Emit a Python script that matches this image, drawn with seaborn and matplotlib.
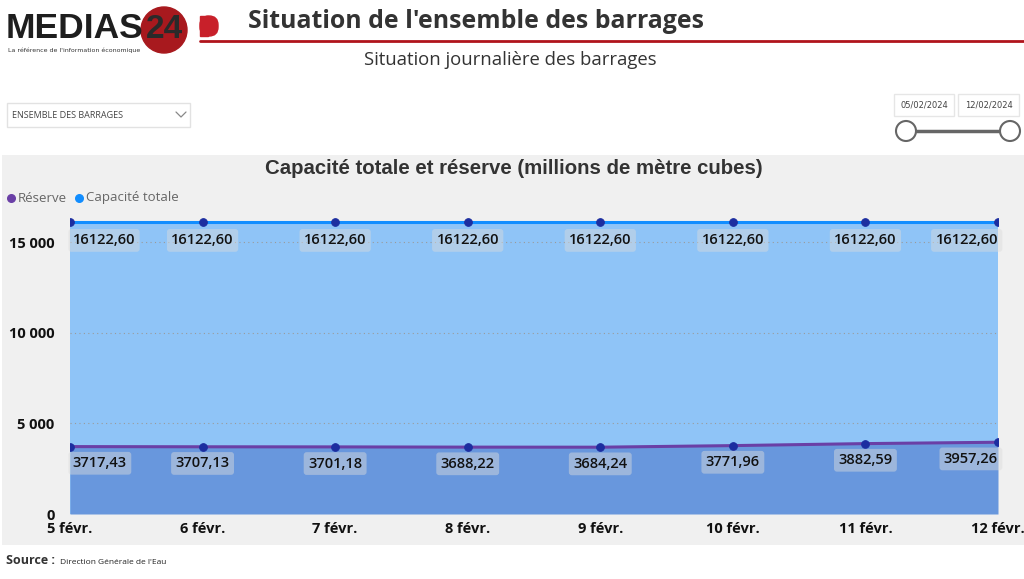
import matplotlib
matplotlib.use("Agg")
import matplotlib.pyplot as plt
from matplotlib.patches import Rectangle, Circle, FancyBboxPatch
import pandas as pd
import seaborn as sns

# data
dates = ["5 févr.", "6 févr.", "7 févr.", "8 févr.", "9 févr.", "10 févr.", "11 févr.", "12 févr."]
reserve = [3717.43, 3707.13, 3701.18, 3688.22, 3684.24, 3771.96, 3882.59, 3957.26]
capacite = [16122.60] * 8
y_ticks = [0, 5000, 10000, 15000]
y_tick_labels = ["0", "5 000", "10 000", "15 000"]

RESERVE_LINE = "#6a3fa6"
RESERVE_FILL = "#6897dd"
CAP_LINE = "#118dff"
CAP_FILL = "#8fc4f7"
MARKER = "#1c2ea0"


def fr(v):
    return f"{v:.2f}".replace(".", ",")


sns.set_theme(style="white")
W, H = 1024, 579
fig = plt.figure(figsize=(W / 100, H / 100), dpi=100)
fig.patch.set_facecolor("white")

# page overlay in pixel coords
bg = fig.add_axes([0, 0, 1, 1], zorder=0)
bg.set_xlim(0, W)
bg.set_ylim(H, 0)
bg.axis("off")

# logo
bg.text(6, 28, "MEDIAS", fontsize=25.5, fontweight="bold", color="#1e1e1e",
        va="center", ha="left", family="Liberation Sans")
bg.add_patch(Circle((164, 30), 23, color="#a8191e", zorder=2))
bg.text(164, 30, "24", fontsize=24, fontweight="bold", color="#2a2a2a",
        va="center", ha="center", zorder=3, family="Liberation Sans")
bg.add_patch(FancyBboxPatch((200, 16), 18, 20, boxstyle="round,pad=0,rounding_size=9",
                            color="#c8202a", zorder=2))
bg.add_patch(Rectangle((200, 16), 8, 20, color="#c8202a", zorder=2))
bg.text(8, 50, "La référence de l'information économique", fontsize=4.5,
        color="#333333", va="center", ha="left")

# header
bg.text(248, 21, "Situation de l'ensemble des barrages", fontsize=17.9, fontweight="bold",
        color="#333333", va="center", ha="left", family="Open Sans")
bg.plot([200, 1024], [41, 41], color="#b0141c", lw=2)
bg.text(510, 60, "Situation journalière des barrages", fontsize=13.3,
        color="#333333", va="center", ha="center", family="Open Sans")

# dropdown
bg.add_patch(Rectangle((7, 103), 183, 24, facecolor="white", edgecolor="#e2e2e2", lw=1))
bg.text(12, 116, "ENSEMBLE DES BARRAGES", fontsize=6.5, color="#444444",
        va="center", ha="left", family="Open Sans")
bg.plot([176, 181, 186], [112, 117, 112], color="#888888", lw=0.9)

# date range slicer
for x0, w, lab in [(894, 60, "05/02/2024"), (958, 61, "12/02/2024")]:
    bg.add_patch(Rectangle((x0, 94), w, 22, facecolor="white", edgecolor="#e6e6e6", lw=1))
    bg.text(x0 + w / 2, 105, lab, fontsize=6, color="#444444", va="center", ha="center")
bg.plot([906, 1010], [131, 131], color="#666666", lw=2.5, zorder=2)
for cx in (906, 1010):
    bg.add_patch(Circle((cx, 131), 10, facecolor="white", edgecolor="#666666", lw=1.5, zorder=3))

# grey visual panel
bg.add_patch(Rectangle((2, 155), 1022, 390, facecolor="#f0f0f0", edgecolor="none", zorder=0))
bg.text(514, 168, "Capacité totale et réserve (millions de mètre cubes)", fontsize=14.7,
        fontweight="bold", color="#333333", va="center", ha="center",
        family="Liberation Sans")

# legend
bg.scatter([11], [198], s=30, color=RESERVE_LINE, zorder=3)
bg.text(18, 198, "Réserve", fontsize=9.5, color="#666666", va="center", ha="left",
        family="Open Sans")
bg.scatter([79], [198], s=30, color=CAP_LINE, zorder=3)
bg.text(86, 198, "Capacité totale", fontsize=9.5, color="#666666", va="center", ha="left",
        family="Open Sans")

# source
bg.text(6, 561, "Source :", fontsize=9, fontweight="bold", color="#333333",
        va="center", ha="left", family="Open Sans")
bg.text(60, 562, "Direction Générale de l'Eau", fontsize=6, color="#222222",
        va="center", ha="left", family="Open Sans")

# main chart
left, right, bottom, top = 70, 998, 514, 215
ax = fig.add_axes([left / W, 1 - bottom / H, (right - left) / W, (bottom - top) / H], zorder=1)
ax.set_facecolor("none")

x = list(range(len(dates)))
df = pd.DataFrame({
    "x": x * 2,
    "value": reserve + capacite,
    "serie": ["Réserve"] * len(x) + ["Capacité totale"] * len(x),
})

ax.fill_between(x, 0, capacite, color=CAP_FILL, lw=0, zorder=1)
ax.fill_between(x, 0, reserve, color=RESERVE_FILL, lw=0, zorder=2)
sns.lineplot(data=df, x="x", y="value", hue="serie",
             palette={"Réserve": RESERVE_LINE, "Capacité totale": CAP_LINE},
             marker="o", markersize=5.5, markerfacecolor=MARKER, markeredgecolor=MARKER,
             linewidth=2.2, legend=False, ax=ax, zorder=4)

ax.set_xlim(x[0], x[-1])
ax.set_ylim(0, 16490)
ax.set_yticks(y_ticks)
ax.set_yticklabels(y_tick_labels)
ax.set_xticks(x)
ax.set_xticklabels(dates)
ax.tick_params(axis="both", length=0, labelsize=10.5, colors="#111111")
ax.tick_params(axis="x", pad=6)
ax.tick_params(axis="y", pad=11)
for lab in ax.get_xticklabels() + ax.get_yticklabels():
    lab.set_fontweight("bold")
    lab.set_family("Open Sans")
ax.set_xlabel("")
ax.set_ylabel("")
for s in ax.spines.values():
    s.set_visible(False)
for yv in y_ticks:
    ax.axhline(yv, color="#9a9a9a", lw=0.8, ls=(0, (1, 3)), zorder=3)
ax.axvline(x[-1], color="#9a9a9a", lw=0.8, ls=(0, (1, 3)), zorder=0)

box = dict(boxstyle="round,pad=0.3,rounding_size=0.2", facecolor="#dcdcdc",
           edgecolor="none", alpha=0.45)
n = len(x)
for i in x:
    ha = "left" if i == 0 else ("right" if i == n - 1 else "center")
    dx = 2 if i == 0 else 0
    ax.annotate(fr(capacite[i]), (i, capacite[i]), xytext=(dx, -13.5), textcoords="offset points",
                ha=ha, va="center", fontsize=10.5, color="#111111", bbox=box, zorder=5,
                family="Open Sans", fontweight="semibold")
    ax.annotate(fr(reserve[i]), (i, reserve[i]), xytext=(dx, -12), textcoords="offset points",
                ha=ha, va="center", fontsize=10.5, color="#111111", bbox=box, zorder=5,
                family="Open Sans", fontweight="semibold")

fig.savefig("out.png", dpi=100)
